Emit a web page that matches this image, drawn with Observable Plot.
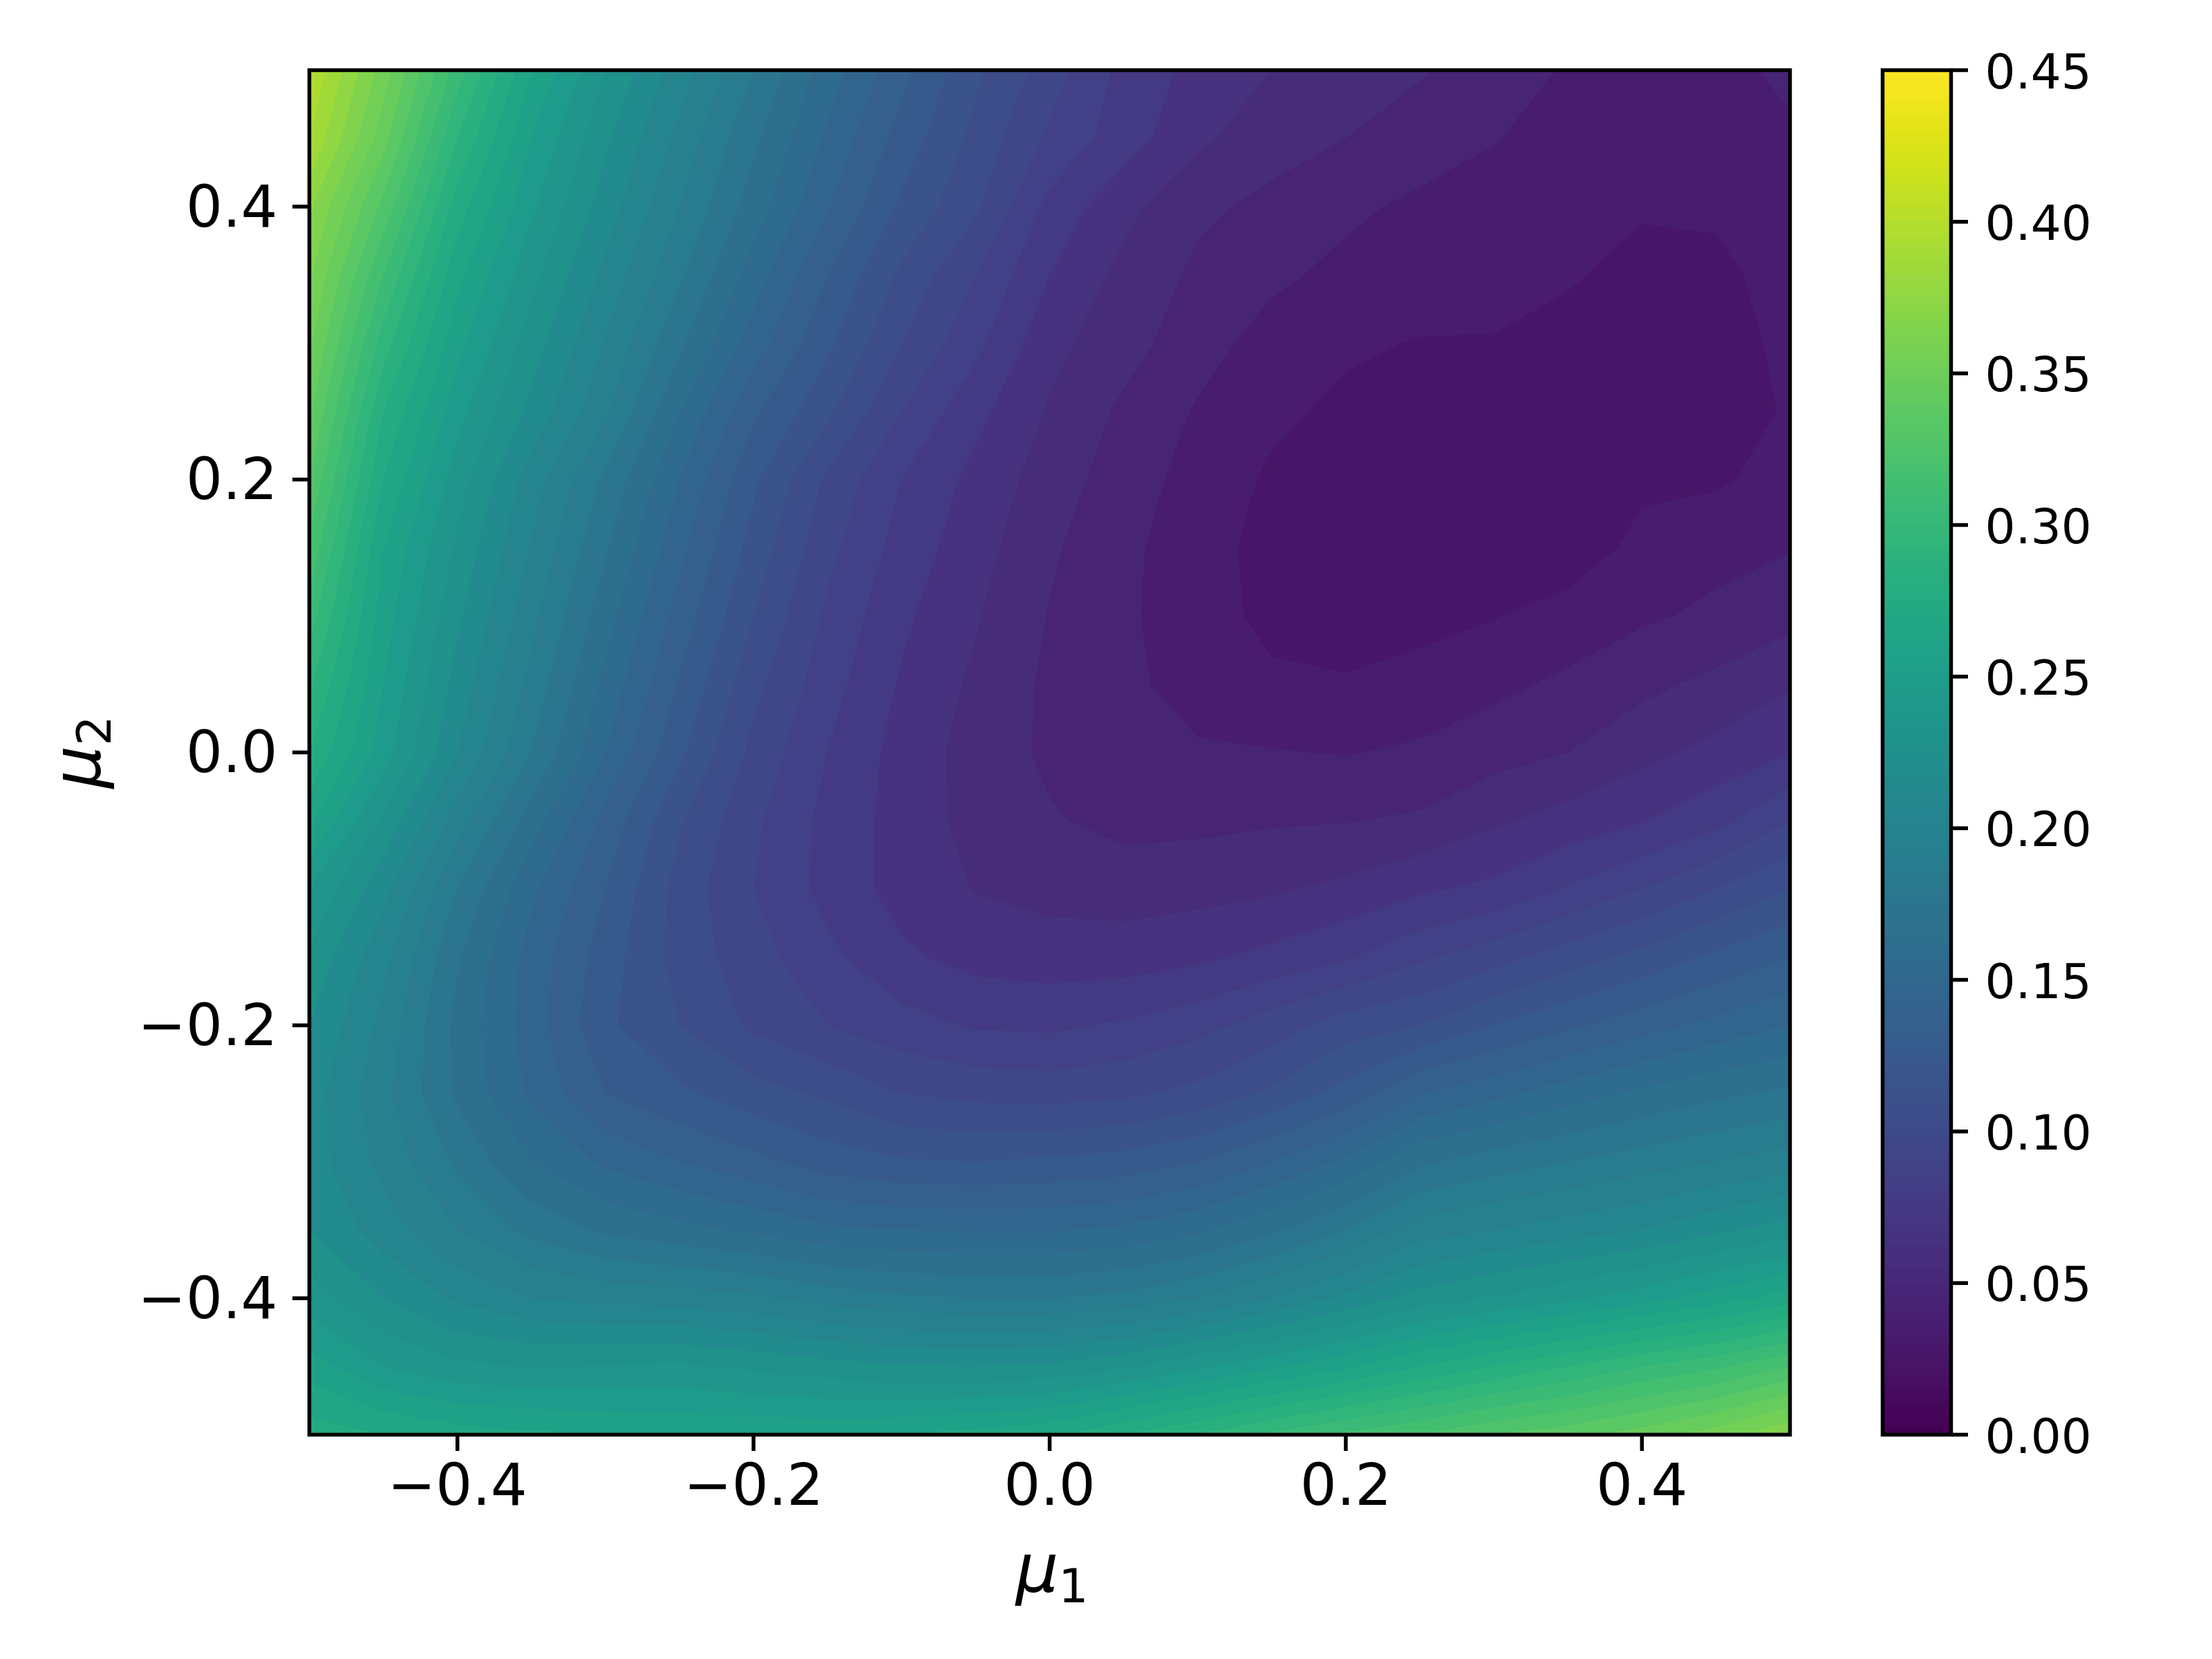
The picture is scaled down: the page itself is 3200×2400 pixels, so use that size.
<!DOCTYPE html>
<html>
<head>
<meta charset="utf-8">
<script src="https://cdn.jsdelivr.net/npm/d3@7"></script>
<script src="https://cdn.jsdelivr.net/npm/@observablehq/plot@0.6"></script>
<style>
html,body{margin:0;padding:0;background:#fff}
#chart{position:relative;width:3200px;height:2400px}
#chart svg{position:absolute;left:0;top:0}
</style>
</head>
<body>
<div id="chart"></div>
<script>
// grid: mu1 from -0.5 to 0.5 (21 columns), mu2 from 0.5 to -0.5 (21 rows)
const row00=[.40,.355,.305,.26,.23,.205,.18,.155,.133,.112,.095,.077,.067,.060,.055,.051,.045,.039,.035,.036,.043];
const row01=[.39,.344,.29,.25,.222,.197,.172,.148,.126,.107,.088,.075,.062,.054,.05,.045,.0405,.036,.033,.034,.038];
const row02=[.372,.327,.275,.242,.215,.19,.165,.141,.118,.102,.077,.063,.052,.0475,.042,.038,.036,.033,.0305,.031,.035];
const row03=[.362,.31,.263,.233,.207,.182,.155,.13,.108,.09,.07,.057,.048,.042,.0375,.035,.033,.0305,.0285,.0285,.0325];
const row04=[.352,.295,.253,.225,.199,.172,.145,.122,.1,.083,.063,.054,.044,.036,.0315,.0295,.0295,.0285,.0265,.0265,.032];
const row05=[.342,.28,.244,.217,.192,.16,.132,.112,.09,.073,.059,.048,.039,.032,.028,.027,.026,.0255,.025,.0255,.031];
const row06=[.33,.27,.235,.205,.178,.15,.122,.098,.08,.067,.055,.045,.036,.0285,.0255,.024,.023,.0235,.028,.0285,.034];
const row07=[.318,.26,.228,.199,.171,.143,.116,.093,.076,.064,.0515,.0425,.034,.0265,.0225,.022,.022,.024,.033,.037,.0395];
const row08=[.305,.255,.222,.193,.164,.136,.11,.088,.072,.061,.0495,.0415,.035,.027,.025,.0265,.0295,.034,.0385,.042,.047];
const row09=[.292,.25,.216,.187,.157,.129,.103,.084,.069,.058,.048,.042,.0365,.032,.031,.034,.0375,.042,.0475,.0525,.059];
const row10=[.28,.245,.21,.18,.15,.122,.097,.08,.066,.056,.048,.044,.041,.0405,.0395,.0415,.046,.05,.057,.063,.07];
const row11=[.262,.228,.195,.165,.137,.111,.092,.077,.066,.0565,.051,.047,.0475,.049,.0495,.0515,.0585,.064,.0695,.077,.09];
const row12=[.24,.213,.18,.152,.13,.106,.09,.077,.066,.0595,.0565,.0555,.0565,.0585,.0625,.0685,.0725,.081,.09,.10,.11];
const row13=[.228,.203,.171,.146,.125,.106,.094,.0825,.072,.0665,.065,.065,.068,.073,.079,.088,.096,.105,.113,.122,.13];
const row14=[.22,.197,.167,.145,.122,.11,.098,.09,.084,.079,.078,.0815,.0865,.095,.105,.11,.12,.128,.136,.143,.15];
const row15=[.215,.193,.168,.148,.13,.122,.114,.108,.10,.097,.096,.098,.103,.112,.124,.14,.147,.155,.162,.168,.172];
const row16=[.215,.197,.178,.16,.148,.14,.133,.125,.121,.12,.122,.124,.13,.14,.152,.168,.175,.18,.185,.19,.195];
const row17=[.22,.205,.19,.177,.168,.163,.158,.152,.15,.149,.149,.152,.158,.168,.18,.195,.2,.205,.21,.218,.225];
const row18=[.235,.22,.208,.2,.197,.195,.192,.186,.182,.18,.18,.183,.19,.2,.212,.224,.231,.238,.246,.255,.265];
const row19=[.255,.24,.232,.23,.231,.232,.228,.224,.221,.22,.222,.228,.238,.248,.258,.27,.28,.29,.30,.308,.32];
const row20=[.275,.27,.265,.262,.26,.258,.258,.258,.26,.264,.268,.28,.29,.302,.312,.32,.33,.336,.345,.355,.37];
const rows=[row00,row01,row02,row03,row04,row05,row06,row07,row08,row09,row10,row11,row12,row13,row14,row15,row16,row17,row18,row19,row20];

const levels=[0,.01,.02,.03,.04,.05,.06,.07,.08,.09,.10,.11,.12,.13,.14,.15,.16,.17,.18,.19,.20,.21,.22,.23,.24,.25,.26,.27,.28,.29,.30,.31,.32,.33,.34,.35,.36,.37,.38,.39,.40,.41,.42,.43,.44];
const axisTicks=[-.4,-.2,0,.2,.4];
const barTicks=[0,.05,.10,.15,.20,.25,.30,.35,.40,.45];
const barStep=.0025;
const barBands=d3.range(0,180).map(i=>i*barStep);

const font="DejaVu Sans";
const lw=5.5;
const f1=d3.format(".1f"), f2=d3.format(".2f");

const main=Plot.plot({
  width:3200,height:2400,
  marginLeft:447,marginRight:611,marginTop:101,marginBottom:325,
  x:{domain:[-.5,.5]},
  y:{domain:[-.5,.5]},
  color:{type:"linear",scheme:"viridis",domain:[-.005,.445]},
  style:{background:"#fff",fontFamily:font},
  marks:[
    Plot.contour(rows.flat(),{width:21,height:21,x1:-.525,x2:.525,y1:.525,y2:-.525,fill:Plot.identity,thresholds:levels,clip:"frame"}),
    Plot.frame({stroke:"#000",strokeWidth:lw}),
    Plot.axisX(axisTicks,{anchor:"bottom",label:null,tickSize:24,tickPadding:18,strokeWidth:lw,stroke:"#000",fill:"#000",fontSize:83.3,fontFamily:font,tickFormat:f1}),
    Plot.axisY(axisTicks,{anchor:"left",label:null,tickSize:24,strokeWidth:lw,stroke:"#000",tickFormat:()=>""}),
    Plot.axisY(axisTicks,{anchor:"left",label:null,tickSize:0,tickPadding:46,dy:2,fill:"#000",fontSize:83.3,fontFamily:font,tickFormat:f1})
  ]
});

const bar=Plot.plot({
  width:3200,height:2400,
  marginLeft:2723,marginRight:378,marginTop:101,marginBottom:325,
  x:{domain:[0,1],axis:null},
  y:{domain:[0,.45]},
  color:{type:"linear",scheme:"viridis",domain:[-barStep/2,.45-barStep/2]},
  style:{background:"transparent",fontFamily:font},
  marks:[
    Plot.rect(barBands,{x1:0,x2:1,y1:d=>d,y2:d=>d+barStep,fill:d=>d,shapeRendering:"crispEdges"}),
    Plot.frame({stroke:"#000",strokeWidth:lw}),
    Plot.axisY(barTicks,{anchor:"right",label:null,tickSize:24,strokeWidth:lw,stroke:"#000",tickFormat:()=>""}),
    Plot.axisY(barTicks,{anchor:"right",label:null,tickSize:0,tickPadding:49,dy:4,fill:"#000",fontSize:69.4,fontFamily:font,tickFormat:f2})
  ]
});

function mathLabel(svg,transform,sub){
  const t=d3.select(svg).append("text")
    .attr("transform",transform).attr("text-anchor","middle")
    .attr("font-family",font).attr("font-size",97.2).attr("fill","#000");
  t.append("tspan").attr("font-style","italic").text("\u03bc");
  t.append("tspan").attr("font-size",68).attr("dy",15).text(sub);
}
mathLabel(main,"translate(1522,2303)","1");
mathLabel(main,"translate(145,1088) rotate(-90)","2");

document.getElementById("chart").append(main,bar);
</script>
</body>
</html>
